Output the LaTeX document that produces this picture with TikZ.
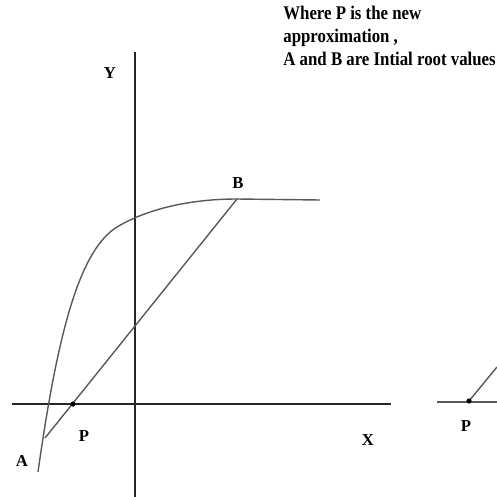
\documentclass[tikz,border=0pt]{standalone}
\usepackage{fontspec}
\setmainfont{Liberation Serif}
\newfontfamily\notefont[FakeStretch=0.87]{Liberation Serif}
\usetikzlibrary{positioning}
\begin{document}
\begin{tikzpicture}[x=0.02cm,y=-0.02cm,every node/.style={inner sep=1pt,font=\bfseries\fontsize{9.5}{11}\selectfont}]
\tikzstyle{axis}=[draw,black!85,line width=0.6pt]
\tikzstyle{curve}=[draw,black!65,line width=0.8pt]
\useasboundingbox (0,0) rectangle (497,497);

% axes
\coordinate (x0) at (12,404);
\coordinate (x1) at (391,404);
\coordinate (y0) at (135,52);
\coordinate (y1) at (135,497);
\path[axis](x0)--(x1);
\path[axis](y0)--(y1);
\node(ylab) at (110,73){Y};
\node(xlab) at (368,440){X};

% function curve
\coordinate (c0) at (38,472);
\coordinate (c1) at (117,227);
\coordinate (B) at (237,199);
\coordinate (c2) at (320,200);
\path[curve](c0) .. controls (58,330) and (80,250) .. (c1)
  .. controls (147,209) and (190,199) .. (B) -- (c2);

% secant A--B
\coordinate (A) at (45,438);
\coordinate (P) at (73,404);
\path[curve](A)--(B);
\fill (P) circle (2.6);
\node(alab) at (22,461){A};
\node(plab) at (84,436){P};
\node(blab) at (238,183){B};

% second sketch, cut at the edge
\coordinate (q0) at (437,402);
\coordinate (q1) at (497,402);
\coordinate (P2) at (469,401);
\coordinate (q2) at (497,367);
\path[curve](q0)--(q1);
\path[curve](P2)--(q2);
\fill (P2) circle (2.6);
\node(p2lab) at (466,426){P};

% legend
\node[anchor=north west,align=left,inner sep=0pt,font=\notefont\bfseries\fontsize{11}{13}\selectfont](note) at (283,6){Where P is the new\\approximation ,\\A and B are Intial root values};
\end{tikzpicture}
\end{document}
